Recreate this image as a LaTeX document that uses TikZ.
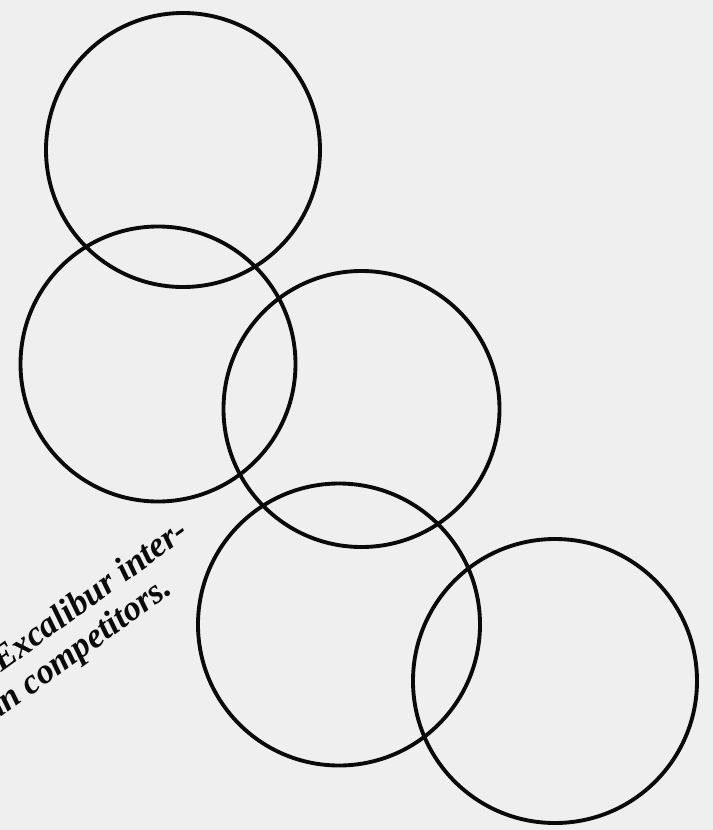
\documentclass[tikz,border=0pt]{standalone}
\usepackage{fontspec}
\setmainfont{Liberation Serif}
\definecolor{paper}{RGB}{239,239,239}
\definecolor{ink}{RGB}{10,10,10}
\begin{document}
\begin{tikzpicture}[x=0.03cm,y=-0.03cm,
    ring/.style={draw=ink,line width=3.3pt},
    caption/.style={inner sep=0pt,rotate=36,text=ink,font=\fontsize{30}{32}\selectfont\bfseries\itshape}]
    % Papier
    \fill[paper] (0,0) rectangle (713,830);
    \clip (0,0) rectangle (713,830);
    % Die fuenf Ringe
    \draw[ring] (183,150) circle (137);
    \draw[ring] (158,364) circle (137.5);
    \draw[ring] (361.5,409) circle (138);
    \draw[ring] (339,624.5) circle (141);
    \draw[ring] (555,681) circle (142);
    % Bildunterschrift (links abgeschnitten)
    \node[caption,anchor=base west] (zeile1) at (1,673) {Excalibur inter-};
    \node[caption,anchor=base east] (zeile2) at (174,592) {an competitors.};
\end{tikzpicture}
\end{document}
